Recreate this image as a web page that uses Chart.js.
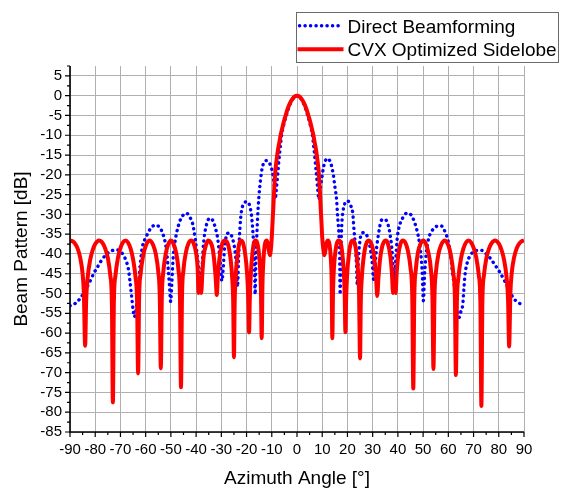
<!DOCTYPE html>
<html>
<head>
<meta charset="utf-8">
<script src="https://cdn.jsdelivr.net/npm/chart.js@4.4.1/dist/chart.umd.min.js"></script>
<style>
  html, body { margin: 0; padding: 0; background: #fff; }
  #wrap { width: 561px; height: 489px; }
</style>
</head>
<body>
<div id="wrap"><canvas id="c" width="561" height="489"></canvas></div>
<script>
// Axis ticks
const angleTicks = [-90, -80, -70, -60, -50, -40, -30, -20, -10, 0, 10, 20, 30, 40, 50, 60, 70, 80, 90];
const dbTicks = [-85, -80, -75, -70, -65, -60, -55, -50, -45, -40, -35, -30, -25, -20, -15, -10, -5, 0, 5];

const seriesNames = ['Direct Beamforming', 'CVX Optimized Sidelobe'];

// Beam pattern of the plain (direct) beamformer: [azimuth deg, dB]
const directPattern = [
  [-90,-53.1],[-87.7,-52.4],[-85.8,-51.1],[-84.2,-49.5],[-82,-46.8],[-80.4,-44.7],[-79,-43.2],[-77.6,-41.7],
  [-76,-40.4],[-74.5,-39.5],[-73,-39.1],[-71.2,-39],[-69.5,-39.7],[-68.3,-40.9],[-67.5,-42.2],[-66.9,-43.7],
  [-66.3,-46.5],[-65.6,-50.5],[-65,-54],[-64.5,-55.9],[-64,-55],[-63.5,-52.5],[-62.9,-49],[-62.4,-44.5],
  [-61.9,-41],[-61.3,-38.2],[-60.5,-36.6],[-59.3,-35],[-58.2,-33.7],[-57,-32.9],[-55.8,-32.7],[-54.6,-33.2],
  [-53.6,-34.2],[-52.8,-35.7],[-52.1,-37.6],[-51.5,-40.5],[-51,-44.3],[-50.5,-48.5],[-50.1,-52],[-49.6,-47],
  [-49.1,-41],[-48.5,-37.5],[-47.9,-35.2],[-47,-32.8],[-46,-31],[-45,-30.1],[-44,-29.7],[-43,-30.1],
  [-42.2,-31],[-41.4,-32.3],[-40.8,-34.3],[-40.3,-36.5],[-39.8,-39],[-39.2,-42.3],[-38.6,-45.5],[-38.1,-46.2],
  [-37.6,-43],[-37.2,-38.5],[-36.7,-35.3],[-36.1,-33.2],[-35.4,-31.6],[-34.5,-31],[-33.6,-31.3],[-32.8,-32.5],
  [-32.2,-33.8],[-31.6,-35.5],[-30.9,-39],[-30.3,-43],[-29.8,-46.8],[-29.3,-44],[-28.8,-39],[-28.3,-36.3],
  [-27.5,-34.8],[-26.6,-34.7],[-25.9,-35.5],[-25.2,-37],[-24.6,-39.2],[-24,-43],[-23.6,-48.3],[-23.2,-42],
  [-22.8,-35.5],[-22.3,-30.7],[-21.6,-28],[-20.8,-27],[-19.8,-26.8],[-19.1,-27.2],[-18.4,-28.8],[-17.8,-31.8],
  [-17.3,-36.4],[-16.9,-41.5],[-16.6,-50.2],[-16.3,-42],[-16,-36.5],[-15.6,-30.5],[-15.1,-25.5],[-14.5,-21.5],
  [-13.8,-18.3],[-13,-16.8],[-12.1,-16.4],[-11.2,-16.8],[-10.3,-17.9],[-9.6,-19.8],[-9.1,-22.2],[-8.8,-24.3],
  [-8.6,-26.1],[-8.3,-24.5],[-8,-22.3],[-7.6,-19.5],[-7.2,-16.5],[-6.8,-14],[-6.4,-11.5],[-6,-9.5],
  [-5.5,-8],[-5,-6.7],[-4,-4.5],[-3,-2.6],[-2,-1.2],[-1,-0.3],[0,0],
  [1,-0.3],[2,-1.2],[3,-2.6],[4,-4.5],[5,-6.7],[5.5,-8],[6,-9.5],[6.5,-12],[7,-15],[7.4,-17.8],[7.8,-20.5],
  [8.2,-23.5],[8.7,-26.3],[9.2,-23.8],[9.8,-21],[10.4,-18.5],[11,-16.8],[12.2,-15.9],[13.5,-17.3],[14.4,-20],
  [15.1,-23.4],[15.7,-26.3],[16.1,-30.5],[16.6,-34.7],[16.9,-40],[17.1,-50.2],[17.4,-41],[17.7,-33.5],
  [18.3,-29],[19,-27.2],[20.1,-26.6],[21.1,-27.6],[22.1,-29.7],[22.6,-33.9],[23.2,-38.5],[23.6,-43],
  [23.9,-47.8],[24.3,-42],[24.8,-37.5],[25.6,-34.9],[26.6,-34.6],[27.4,-35],[28.2,-36.2],[29,-38.5],
  [29.8,-42],[30.4,-46.5],[30.8,-44.5],[31.4,-39.5],[32.2,-35.5],[33.6,-31.4],[34.9,-31.3],[36.2,-32.8],
  [37,-35.5],[37.8,-40],[38.5,-47],[39.1,-42],[39.6,-37],[40.2,-34],[41.9,-30.9],[43.5,-29.7],
  [45.2,-30.1],[46.5,-31.8],[47.5,-33.9],[48.5,-37],[49.2,-40.6],[49.7,-45.5],[50.1,-51.8],[50.6,-45],
  [51.2,-40],[52.1,-36.3],[53.4,-34.3],[55.1,-33.1],[57.1,-32.9],[58.9,-34.7],[60,-37],[61.1,-41.5],
  [61.7,-44.9],[62.4,-48.2],[63,-51.6],[63.5,-54.5],[64.3,-56],[65,-54.5],[65.7,-52.9],[66.2,-48.5],
  [66.6,-45.3],[67.5,-42.2],[68.9,-40.2],[71.2,-39.1],[73.2,-39.1],[75,-40],[76.9,-41.3],[78.6,-42.9],
  [80.2,-44.4],[82.5,-47],[84.2,-49.2],[85.8,-51.2],[87.4,-52.1],[90,-53.2]
];

// Beam pattern after CVX sidelobe optimisation: [azimuth deg, dB]
const cvxPattern = [
  [-90,-36.6],[-89,-36.8],[-88,-37.4],[-87,-38.6],[-86,-40.8],[-85,-45],[-84.5,-50],[-84,-63.2],
  [-83.6,-52],[-83,-46],[-82,-41.5],[-81,-39],[-80,-37.5],[-78.5,-36.6],[-77,-37.3],[-76,-38.7],[-75,-41],
  [-74,-45.5],[-73.4,-52],[-73,-77.5],
  [-72.6,-52],[-72,-45.5],[-71,-41],[-70,-38.5],[-69,-37.1],[-68,-36.6],[-67,-37.1],[-66,-38.6],[-65,-41.3],
  [-64,-46],[-63.4,-52],[-63,-70.2],
  [-62.6,-51],[-62,-45],[-61,-40.5],[-60,-38],[-58.5,-36.6],[-57,-37.8],[-56,-40],[-55,-44.5],[-54.4,-51],[-54,-68.9],
  [-53.6,-51],[-53,-44.5],[-52,-39.8],[-51,-37.5],[-50,-36.6],[-49,-37.4],[-48,-39.5],[-47,-44],[-46.4,-51],[-46,-73.7],
  [-45.6,-51],[-45,-44],[-44,-39.5],[-43,-37.3],[-42,-36.6],[-41,-37.3],[-40,-39.8],[-39.4,-43.5],[-39,-49.9],
  [-38.5,-49.2],[-38,-49.9],
  [-37.5,-44.5],[-37,-40.5],[-36,-37.6],[-35.2,-36.6],[-34.3,-37],[-33.4,-38.8],[-32.7,-42.5],[-32.2,-46.5],[-31.8,-50.4],
  [-31.4,-46],[-30.8,-41.5],[-30,-38.3],[-29.2,-36.8],[-28.5,-36.6],[-27.7,-37],[-26.9,-38.8],[-26.2,-42],[-25.7,-46],
  [-25.3,-52],[-25,-66.1],
  [-24.7,-52],[-24.3,-45.5],[-23.6,-40.5],[-22.9,-37.4],[-22.2,-36.6],[-21.5,-37],[-20.8,-39],[-20.1,-42.5],[-19.6,-47],
  [-19.3,-52],[-19,-59.8],
  [-18.7,-51],[-18.3,-45],[-17.7,-40],[-17.1,-37.3],[-16.4,-36.6],[-15.8,-37.1],[-15.2,-39.2],[-14.7,-43],[-14.3,-49],[-14,-61.3],
  [-13.7,-48],[-13.3,-41.5],[-12.8,-37.8],[-12.1,-36.6],[-11.6,-37.3],[-11.2,-39],[-10.75,-40.3],[-10.35,-38.8],
  [-10,-35.8],[-9.7,-32],[-9.4,-28.5],[-9.1,-24.5],[-8.8,-21],[-8.5,-18.5],[-8,-15.8],[-7.5,-13.5],[-7,-11.8],
  [-6.5,-10],[-6,-8.6],[-5.5,-7.3],[-5,-6],[-4.5,-5],[-4,-3.9],[-3,-2.2],[-2,-1],[-1,-0.25],[0,0],
  [1,-0.25],[2,-1],[3,-2.2],[4,-3.9],[4.5,-5],[5,-6],[5.5,-7.3],[6,-8.6],[6.5,-10],[7,-11.8],[7.5,-13.5],[8,-15.8],
  [8.5,-18.5],[8.8,-21],[9.1,-24.5],[9.4,-28.5],[9.7,-32],[10,-35.8],[10.4,-38.6],[10.9,-40.3],[11.3,-39],
  [11.7,-37.3],[12.3,-36.6],[12.9,-37.6],[13.4,-41],[13.75,-47],[14,-61.3],
  [14.3,-49],[14.7,-43],[15.3,-39],[15.9,-37.1],[16.6,-36.6],[17.3,-37.2],[17.9,-39.5],[18.5,-44],[18.9,-50],[19.2,-59.8],
  [19.5,-51],[19.9,-45],[20.6,-40],[21.3,-37.3],[22.1,-36.6],[22.9,-37.3],[23.6,-40],[24.2,-44.5],[24.6,-50],[25,-66.4],
  [25.3,-52],[25.7,-46],[26.3,-41.5],[27,-38.5],[27.7,-37],[28.4,-36.6],[29.2,-37],[30,-38.5],[30.8,-42],[31.4,-46.5],
  [31.8,-50.6],
  [32.3,-46],[32.9,-41.5],[33.7,-38.3],[34.5,-36.9],[35.2,-36.6],[36,-37.3],[37,-40.5],[37.6,-44.5],[38.1,-49.9],
  [38.6,-49.2],[39.1,-49.9],
  [39.5,-45],[40.1,-40.5],[41,-37.5],[42,-36.6],[43,-37.2],[44,-39.3],[45,-43.5],[45.7,-51],[46.1,-74],
  [46.5,-51],[47.1,-44],[48,-39.5],[49,-37.4],[50,-36.6],[51,-37.3],[52,-39.4],[53.1,-44],[53.7,-51],[54.1,-69.1],
  [54.5,-51],[55.1,-44.5],[56.1,-40],[57.1,-37.8],[58.6,-36.6],[60,-37.8],[61,-40.3],[62,-45],[62.6,-51],[63,-70.6],
  [63.4,-52],[64,-46],[65,-41.2],[66,-38.6],[67,-37.1],[68,-36.6],[69,-37.1],[70.1,-38.6],[71.1,-41],[72.1,-45.5],
  [72.7,-52],[73.1,-78.4],
  [73.5,-52],[74.1,-45.5],[75.1,-41],[76.1,-38.7],[77.1,-37.3],[78.6,-36.6],[80.1,-37.5],[81.1,-39],[82.1,-41.5],
  [83.1,-46],[83.7,-52],[84.1,-63.4],
  [84.6,-50],[85.1,-45],[86.1,-40.8],[87.1,-38.6],[88.1,-37.4],[89,-36.8],[90,-36.6]
];

const FONT = "'Liberation Sans', Arial, Helvetica, sans-serif";
const BLUE = '#0000ff';
const RED = '#ff0000';
const DOTS = [0.2, 5.3];

const toPoints = rows => rows.map(([x, y]) => ({ x, y }));

// Black L-shaped axes with outward major/minor tick marks
const axisFrame = {
  id: 'axisFrame',
  afterDatasetsDraw(chart) {
    const { ctx, chartArea: a, scales: { x, y } } = chart;
    const minors = (ticks, lo, hi) => {
      const out = [];
      const step = ticks[1] - ticks[0];
      if (ticks[0] - step / 2 >= lo) out.push(ticks[0] - step / 2);
      for (let i = 0; i < ticks.length - 1; i++) out.push((ticks[i] + ticks[i + 1]) / 2);
      if (ticks[ticks.length - 1] + step / 2 <= hi) out.push(ticks[ticks.length - 1] + step / 2);
      return out;
    };
    ctx.save();
    ctx.strokeStyle = '#000';
    ctx.lineWidth = 1.2;
    ctx.beginPath();
    angleTicks.forEach(v => { const p = x.getPixelForValue(v); ctx.moveTo(p, a.bottom); ctx.lineTo(p, a.bottom + 5); });
    minors(angleTicks, x.min, x.max).forEach(v => { const p = x.getPixelForValue(v); ctx.moveTo(p, a.bottom); ctx.lineTo(p, a.bottom + 3); });
    dbTicks.forEach(v => { const p = y.getPixelForValue(v); ctx.moveTo(a.left, p); ctx.lineTo(a.left - 5, p); });
    minors(dbTicks, y.min, y.max).forEach(v => { const p = y.getPixelForValue(v); ctx.moveTo(a.left, p); ctx.lineTo(a.left - 3, p); });
    ctx.stroke();
    ctx.lineWidth = 1.6;
    ctx.beginPath();
    ctx.moveTo(a.left, a.top);
    ctx.lineTo(a.left, a.bottom);
    ctx.lineTo(a.right, a.bottom);
    ctx.stroke();
    ctx.restore();
  }
};

// Framed legend in the upper right corner
const boxLegend = {
  id: 'boxLegend',
  afterDraw(chart) {
    const ctx = chart.ctx;
    const rows = [32.5, 56];
    ctx.save();
    ctx.fillStyle = '#fff';
    ctx.fillRect(297, 13, 262, 49);
    ctx.strokeStyle = '#6a6a6a';
    ctx.lineWidth = 1;
    ctx.strokeRect(296.5, 12.5, 262, 50);
    chart.data.datasets.forEach((ds, i) => {
      const base = rows[i];
      const mid = base - 6.8;
      ctx.save();
      ctx.strokeStyle = ds.borderColor;
      ctx.lineWidth = ds.borderWidth;
      ctx.lineCap = ds.borderCapStyle || 'butt';
      ctx.setLineDash(ds.borderDash || []);
      ctx.beginPath();
      ctx.moveTo(ds.borderDash ? 299.5 : 297.5, mid);
      ctx.lineTo(343.5, mid);
      ctx.stroke();
      ctx.restore();
      ctx.fillStyle = '#000';
      ctx.font = '19px ' + FONT;
      ctx.textAlign = 'left';
      ctx.textBaseline = 'alphabetic';
      ctx.fillText(ds.label, 347.5, base);
    });
    ctx.restore();
  }
};

new Chart(document.getElementById('c'), {
  type: 'line',
  data: {
    datasets: [
      {
        label: seriesNames[0],
        data: toPoints(directPattern),
        borderColor: BLUE,
        borderWidth: 3.4,
        borderDash: DOTS,
        borderCapStyle: 'round',
        borderJoinStyle: 'round',
        pointRadius: 0,
        fill: false,
        cubicInterpolationMode: 'monotone',
        order: 1
      },
      {
        label: seriesNames[1],
        data: toPoints(cvxPattern),
        borderColor: RED,
        borderWidth: 4,
        borderJoinStyle: 'round',
        pointRadius: 0,
        fill: false,
        cubicInterpolationMode: 'monotone',
        order: 0
      }
    ]
  },
  options: {
    responsive: false,
    animation: false,
    devicePixelRatio: 1,
    layout: { padding: { top: 66, right: 37, bottom: 0, left: 0 } },
    plugins: { legend: { display: false }, tooltip: { enabled: false } },
    scales: {
      x: {
        type: 'linear',
        min: -90,
        max: 90,
        afterBuildTicks: s => { s.ticks = angleTicks.map(v => ({ value: v })); },
        afterFit: s => { s.height = 57; },
        border: { display: false },
        grid: { color: '#b0b0b0', lineWidth: 1, drawTicks: false },
        ticks: { color: '#000', font: { family: FONT, size: 15 }, padding: 9, maxRotation: 0, autoSkip: false },
        title: { display: true, text: 'Azimuth Angle [°]', color: '#000',
                 font: { family: FONT, size: 19, lineHeight: 1 }, padding: { top: 0, bottom: 1 } }
      },
      y: {
        type: 'linear',
        min: -85,
        max: 7.5,
        afterBuildTicks: s => { s.ticks = dbTicks.map(v => ({ value: v })); },
        afterFit: s => { s.width = 70; },
        border: { display: false },
        grid: { color: '#b0b0b0', lineWidth: 1, drawTicks: false },
        ticks: { color: '#000', font: { family: FONT, size: 15 }, padding: 8, autoSkip: false },
        title: { display: true, text: 'Beam Pattern [dB]', color: '#000',
                 font: { family: FONT, size: 19, lineHeight: 1 }, padding: { top: 12, bottom: 0 } }
      }
    }
  },
  plugins: [axisFrame, boxLegend]
});
</script>
</body>
</html>
